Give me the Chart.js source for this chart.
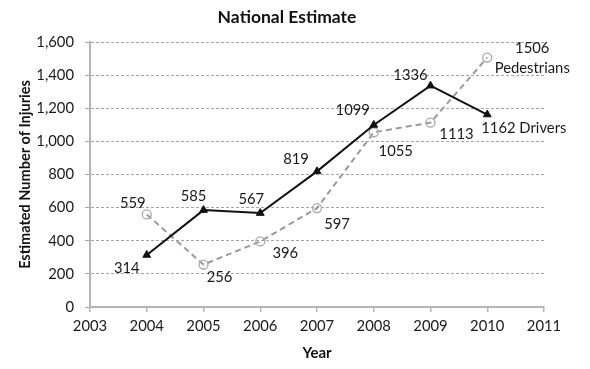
<!DOCTYPE html>
<html><head><meta charset="utf-8">
<script src="https://cdn.jsdelivr.net/npm/chart.js@4.4.1/dist/chart.umd.min.js"></script>
<style>html,body{margin:0;padding:0;background:#fff}</style>
</head><body>
<canvas id="c" width="590" height="369"></canvas>
<script>
const years = [2004, 2005, 2006, 2007, 2008, 2009, 2010];
const drivers = [314, 585, 567, 819, 1099, 1336, 1162];
const pedestrians = [559, 256, 396, 597, 1055, 1113, 1506];
const seriesNames = ['Drivers', 'Pedestrians'];
const chartTitle = 'National Estimate';
const xTitle = 'Year';
const yTitle = 'Estimated Number of Injuries';
const xTicks = [2003, 2004, 2005, 2006, 2007, 2008, 2009, 2010, 2011];
const yTicks = [0, 200, 400, 600, 800, 1000, 1200, 1400, 1600];

const FONT = 'Lato, "Open Sans", sans-serif';
const TXT = '#1a1a1a';

// label offsets (styling): [dx, dy, align]
const labelStyle = {
  0: [[-20, 13], [-10, -14], [-9, -14], [-21, -12], [-21, -15], [-20, -10], [-6, 14, 'left']],
  1: [[-14, -11], [16, 13], [25, 12], [20, 16], [22, 19], [26, 12], [45, -9]]
};

const labelPlugin = {
  id: 'pointLabels',
  afterDatasetsDraw(chart) {
    const ctx = chart.ctx;
    ctx.save();
    ctx.font = '14.8px ' + FONT;
    ctx.fillStyle = TXT;
    ctx.textBaseline = 'middle';
    chart.data.datasets.forEach((ds, di) => {
      const meta = chart.getDatasetMeta(di);
      meta.data.forEach((pt, i) => {
        const st = labelStyle[di][i];
        const last = i === ds.data.length - 1;
        let txt = String(ds.data[i].y);
        if (last && di === 0) txt += ' ' + seriesNames[0];
        ctx.textAlign = st[2] || 'center';
        ctx.fillText(txt, pt.x + st[0], pt.y + st[1]);
        if (last && di === 1) {
          ctx.textAlign = 'center';
          ctx.fillText(seriesNames[1], pt.x + st[0], pt.y + st[1] + 20);
        }
      });
    });
    ctx.restore();
  },
  afterDraw(chart) {
    const ctx = chart.ctx;
    ctx.save();
    ctx.font = 'bold 17.5px ' + FONT;
    ctx.fillStyle = '#111';
    ctx.textAlign = 'center';
    ctx.textBaseline = 'middle';
    ctx.fillText(chartTitle, 287, 17);
    ctx.restore();
  }
};

new Chart(document.getElementById('c'), {
  type: 'line',
  data: {
    datasets: [
      {
        label: seriesNames[0],
        data: years.map((y, i) => ({x: y, y: drivers[i]})),
        borderColor: '#111',
        backgroundColor: '#111',
        borderWidth: 2,
        pointStyle: 'triangle',
        pointRadius: 4.5,
        pointBorderWidth: 1,
        pointBorderColor: '#111',
        pointBackgroundColor: '#111',
        tension: 0
      },
      {
        label: seriesNames[1],
        data: years.map((y, i) => ({x: y, y: pedestrians[i]})),
        borderColor: '#9a9a9a',
        borderWidth: 2,
        borderDash: [6, 4],
        pointStyle: 'circle',
        pointRadius: 4.5,
        pointBorderWidth: 1.3,
        pointBorderColor: '#a8a8a8',
        pointBackgroundColor: 'rgba(255,255,255,0)',
        tension: 0
      }
    ]
  },
  options: {
    responsive: false,
    animation: false,
    devicePixelRatio: 1,
    layout: {padding: {top: 42, right: 46, left: 0, bottom: 0}},
    plugins: {legend: {display: false}, tooltip: {enabled: false}, title: {display: false}},
    scales: {
      x: {
        type: 'linear',
        min: xTicks[0], max: xTicks[xTicks.length - 1],
        afterBuildTicks: s => { s.ticks = xTicks.map(v => ({value: v})); },
        afterFit: s => { s.height = 62; },
        ticks: {font: {family: FONT, size: 14.8}, color: TXT, padding: 5, callback: v => String(v), maxRotation: 0},
        grid: {drawOnChartArea: false, drawTicks: true, tickLength: 5, color: '#b5b5b5', lineWidth: 1.5},
        border: {color: '#b5b5b5', width: 2},
        title: {display: true, text: xTitle, font: {family: FONT, size: 15, weight: 'bold'}, color: '#111', padding: {top: 0, bottom: 7}}
      },
      y: {
        type: 'linear',
        min: yTicks[0], max: yTicks[yTicks.length - 1],
        afterBuildTicks: s => { s.ticks = yTicks.map(v => ({value: v})); },
        afterFit: s => { s.width = 90; },
        ticks: {font: {family: FONT, size: 14.8}, color: TXT, padding: 11, callback: v => v.toLocaleString('en-US')},
        grid: {color: '#a5a5a5', lineWidth: 1, tickLength: 5, drawTicks: true},
        border: {color: '#b5b5b5', width: 2, dash: [3, 2]},
        title: {display: true, text: yTitle, font: {family: FONT, size: 14.5, weight: 'bold'}, color: '#111', padding: {top: 17, bottom: 0}}
      }
    }
  },
  plugins: [labelPlugin]
});
</script>
</body></html>
